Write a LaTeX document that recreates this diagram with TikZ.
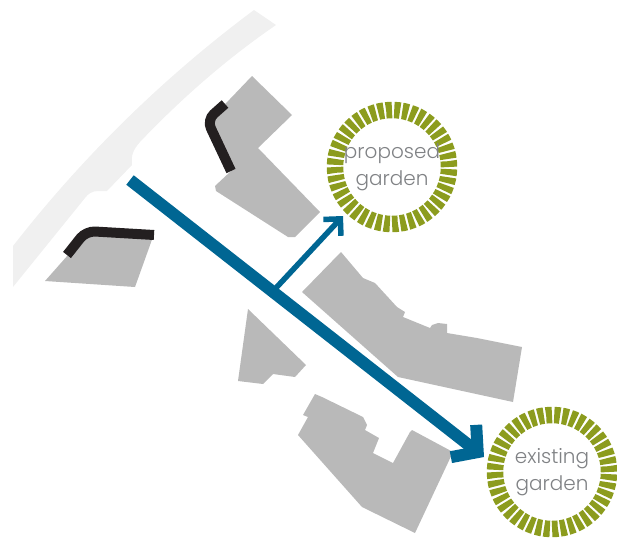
\documentclass[tikz,border=0pt]{standalone}
\usepackage{fontspec}
\usepackage{xcolor}
\usetikzlibrary{arrows.meta,positioning}
\newfontfamily\gardenfont[UprightFont=* Light]{Poppins}
\definecolor{roadgray}{HTML}{F0F0F0}
\definecolor{blockgray}{HTML}{B9B9B9}
\definecolor{edgeblack}{HTML}{231F20}
\definecolor{routeblue}{HTML}{006693}
\definecolor{gardengreen}{HTML}{8C9C1E}
\definecolor{labelgray}{HTML}{808285}
\tikzset{
  block/.style={fill=blockgray,draw=none},
  frontage/.style={draw=edgeblack,line width=10pt,rounded corners=9pt},
  mainroute/.style={draw=routeblue,line width=12pt,-{Straight Barb[length=18pt,width=41pt]}},
  sideroute/.style={draw=routeblue,line width=5.5pt,-{Straight Barb[length=12pt,width=24pt]}},
  garden/.style={circle,minimum size=114pt,inner sep=0pt,line width=16.5pt,draw=gardengreen,
    dash pattern=on 5.9pt off 2.24pt,align=center,text=labelgray,
    font=\gardenfont\fontsize{20}{27}\selectfont},
}
\begin{document}
\begin{tikzpicture}[x=1pt,y=-1pt]
  \useasboundingbox (0,0) rectangle (617,541);
  % road
  \fill[roadgray] (13,246) .. controls (80,160) and (160,80) .. (254,10) -- (276,25)
    .. controls (225,60) and (180,100) .. (140,142) .. controls (133,150) and (131,155) .. (132,165)
    -- (107,191) -- (98,191) .. controls (92,191) and (88,194) .. (85,198) -- (13,287) -- cycle;
  % buildings
  \fill[block] (45,281) -- (135,287) -- (154,234) -- (88,230) -- (68,255) -- cycle;
  \fill[block] (252,76) -- (292,115) -- (258,148) -- (320,212) -- (295,237) -- (288,237)
    -- (216,191) -- (215,186) -- (231,171) -- (208,122) -- cycle;
  \fill[block] (341,252) -- (363,278) -- (375,283) -- (397,307) -- (405,312) -- (403,317)
    -- (430,328) -- (432,325) -- (438,323) -- (447,324) -- (447,333) -- (477,338) -- (522,347)
    -- (513,402) -- (398,377) -- (302,292) -- cycle;
  \fill[block] (248,309) -- (306,365) -- (295,377) -- (273,374) -- (263,384) -- (238,381) -- cycle;
  \fill[block] (315,394) -- (322,397) -- (363,417) -- (367,425) -- (365,430) -- (379,438)
    -- (373,453) -- (393,463) -- (410,432) -- (412,430) -- (453,452) -- (415,533) -- (362,507)
    -- (298,435) -- (308,417) -- (303,415) -- cycle;
  % frontages
  \draw[frontage] (67,255) -- (86,231) -- (154,235);
  \draw[frontage] (225,104) -- (207,120) -- (231,171);
  % gardens
  \node[garden] (proposed) at (392,167) {proposed\\garden};
  \node[garden] (existing) at (552,472) {existing\\garden};
  % routes
  \coordinate (routestart) at (130,180);
  \coordinate (routeend) at (484,457);
  \coordinate (routefork) at (275,289);
  \coordinate (forkend) at (343,216);
  \draw[sideroute] (routefork) -- (forkend);
  \draw[mainroute] (routestart) -- (routeend);
\end{tikzpicture}
\end{document}
